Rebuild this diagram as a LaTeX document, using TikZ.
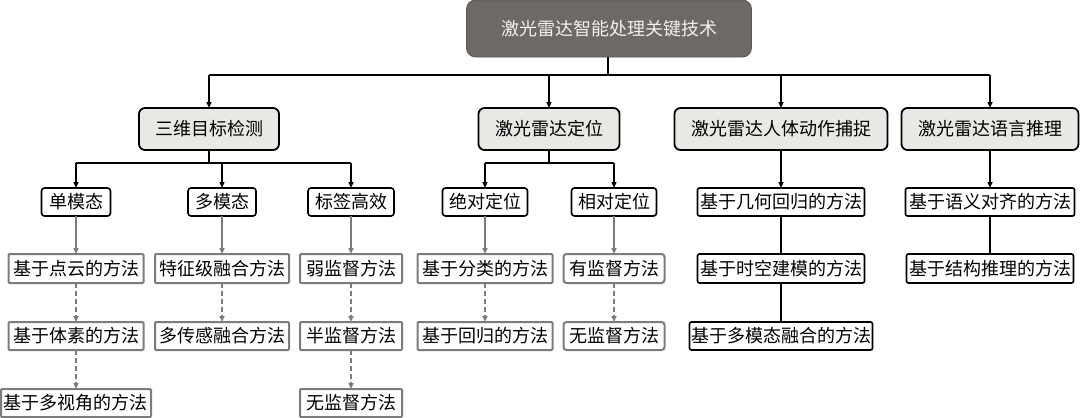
\documentclass[tikz,border=0pt]{standalone}
\usepackage{fontspec}
\setmainfont{Noto Sans CJK SC}
\usetikzlibrary{arrows.meta}
\definecolor{topfill}{HTML}{6E6967}
\definecolor{lvfill}{HTML}{EAE8E5}
\definecolor{gline}{HTML}{7C7C7C}
\definecolor{toptext}{HTML}{F2F0EE}
\begin{document}
\begin{tikzpicture}[x=1pt,y=-1pt,
  every node/.style={inner sep=0pt,outer sep=0pt},
  txt/.style={font=\fontsize{18}{20}\selectfont, text height=15pt, text depth=1.3pt, align=center},
  topbox/.style={txt, fill=topfill, draw=topfill!85!black, line width=0.8pt, rounded corners=9pt, text=toptext},
  lonebox/.style={txt, draw=black, fill=lvfill, line width=1.8pt, rounded corners=6pt},
  ltwobox/.style={txt, draw=black, fill=white, line width=1.6pt, rounded corners=3pt},
  gbox/.style={txt, draw=gline, fill=white, line width=2pt, rounded corners=1pt},
  bbox/.style={txt, draw=black, fill=white, line width=1.6pt, rounded corners=2pt},
  conn/.style={draw=black, line width=1.4pt},
  arr/.style={conn, -{Triangle[length=6pt,width=5pt]}},
  garr/.style={draw=gline, line width=1.9pt, -{Triangle[length=6pt,width=5pt]}},
  gdash/.style={garr, dash pattern=on 5pt off 3pt},
  sz/.style n args={2}{minimum width=#1pt, minimum height=#2pt}
]
\useasboundingbox (0,0) rectangle (1080,418);

% root
\node[topbox, sz={285}{57}] (top) at (609,28.5) {激光雷达智能处理关键技术};

% level 1
\node[lonebox, sz={140}{42}] (A) at (209,129) {三维目标检测};
\node[lonebox, sz={141}{42}] (B) at (549,129) {激光雷达定位};
\node[lonebox, sz={213}{42}] (C) at (781,129) {激光雷达人体动作捕捉};
\node[lonebox, sz={177}{42}] (D) at (990,129) {激光雷达语言推理};

% level 2
\node[ltwobox, sz={69}{28}] (A1) at (76,202) {单模态};
\node[ltwobox, sz={68}{28}] (A2) at (222,202) {多模态};
\node[ltwobox, sz={86}{28}] (A3) at (351,202) {标签高效};
\node[ltwobox, sz={85}{28}] (B1) at (485,202) {绝对定位};
\node[ltwobox, sz={85}{28}] (B2) at (614,202) {相对定位};
\node[bbox, sz={167}{28}] (C1) at (781,202) {基于几何回归的方法};
\node[bbox, sz={169}{28}] (D1) at (990,202) {基于语义对齐的方法};

% level 3
\node[gbox, sz={135}{29}] (A1a) at (76,268.5) {基于点云的方法};
\node[gbox, sz={134}{29}] (A2a) at (222,268.5) {特征级融合方法};
\node[gbox, sz={102}{29}] (A3a) at (351,268.5) {弱监督方法};
\node[gbox, sz={135}{29}] (B1a) at (485,268.5) {基于分类的方法};
\node[gbox, sz={101}{29}, rounded corners=3pt] (B2a) at (614,268.5) {有监督方法};
\node[bbox, sz={167}{29}] (C2) at (781,268.5) {基于时空建模的方法};
\node[bbox, sz={167}{29}] (D2) at (990,268.5) {基于结构推理的方法};

% level 4
\node[gbox, sz={135}{28}] (A1b) at (76,336) {基于体素的方法};
\node[gbox, sz={134}{28}] (A2b) at (222,336) {多传感融合方法};
\node[gbox, sz={102}{28}] (A3b) at (351,336) {半监督方法};
\node[gbox, sz={135}{28}] (B1b) at (485,336) {基于回归的方法};
\node[gbox, sz={101}{28}, rounded corners=3pt] (B2b) at (614,336) {无监督方法};
\node[bbox, sz={183}{28}] (C3) at (781,336) {基于多模态融合的方法};

% level 5
\node[gbox, sz={150}{28}] (A1c) at (76,403) {基于多视角的方法};
\node[gbox, sz={102}{28}] (A3c) at (351,403) {无监督方法};

% bus coordinates
\coordinate (bus0) at (608,75);
\coordinate (busA) at (209,163);
\coordinate (busB) at (549,163);

% root -> level 1
\draw[conn] (top.south -| bus0) -- (bus0);
\draw[conn] (A |- bus0) -- (D |- bus0);
\foreach \n in {A,B,C,D} \draw[arr] (\n |- bus0) -- (\n.north);

% level 1 -> level 2
\draw[conn] (A.south) -- (busA);
\draw[conn] (A1 |- busA) -- (A3 |- busA);
\foreach \n in {A1,A2,A3} \draw[arr] (\n |- busA) -- (\n.north);
\draw[conn] (B.south) -- (busB);
\draw[conn] (B1 |- busB) -- (B2 |- busB);
\foreach \n in {B1,B2} \draw[arr] (\n |- busB) -- (\n.north);
\draw[arr] (C.south) -- (C1.north);
\draw[arr] (D.south) -- (D1.north);

% level 2 -> level 3 (gray solid)
\foreach \p/\c in {A1/A1a,A2/A2a,A3/A3a,B1/B1a,B2/B2a}
  \draw[garr] (\p.south) -- (\p.south |- \c.north);

% dashed gray
\foreach \p/\c in {A1a/A1b,A2a/A2b,A3a/A3b,B1a/B1b,B2a/B2b,A1b/A1c,A3b/A3c}
  \draw[gdash] (\p.south) -- (\p.south |- \c.north);

% right columns plain black lines
\draw[conn] (C1.south) -- (C2.north);
\draw[conn] (C2.south) -- (C3.north);
\draw[conn] (D1.south) -- (D2.north);
\end{tikzpicture}
\end{document}
